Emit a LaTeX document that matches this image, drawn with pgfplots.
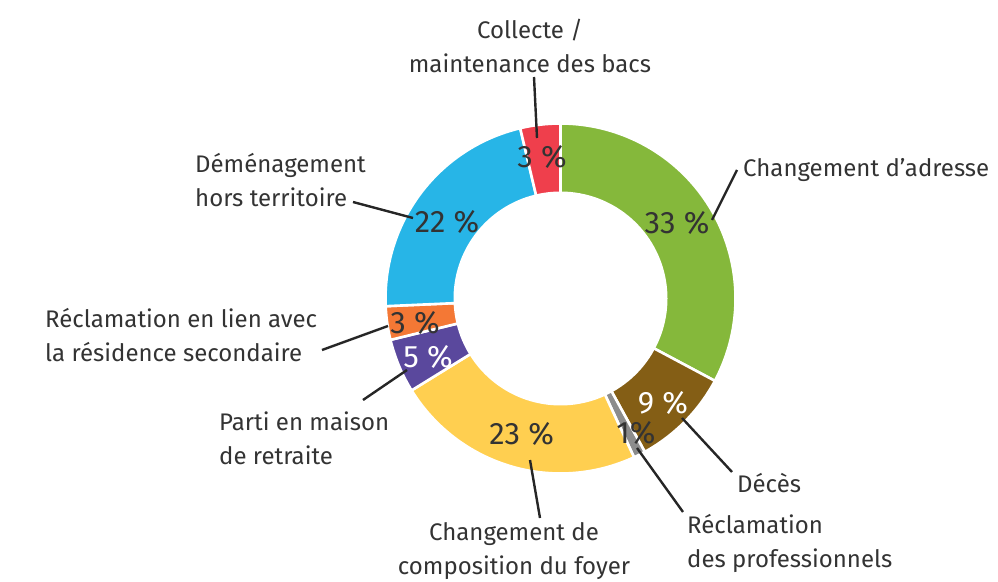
\documentclass[border=0pt]{standalone}
\usepackage{pgfplots}
\pgfplotsset{compat=1.18}
\usepackage{fontspec}
\setmainfont{Fira Sans}

\definecolor{cgreen}{HTML}{85B83B}
\definecolor{cbrown}{HTML}{845E15}
\definecolor{cgrey}{HTML}{8C8C8C}
\definecolor{cyellow}{HTML}{FFCF50}
\definecolor{cpurple}{HTML}{5A489D}
\definecolor{corange}{HTML}{F47835}
\definecolor{cblue}{HTML}{27B5E7}
\definecolor{cred}{HTML}{EF3F4C}
\definecolor{ctext}{HTML}{333333}

% one donut slice: share in percent, colour; drawn clockwise from the top
\newcommand\cum{0}
\newcommand\slice[2]{%
  \pgfmathsetmacro\sa{\cum}%
  \pgfmathsetmacro\sb{\cum+#1}%
  \xdef\cum{\sb}%
  \edef\doslice{\noexpand\addplot[fill=#2, draw=white, line width=2.6pt, line join=round,
    domain=\sa:\sb, samples=80]
    ({175*cos(90-3.6*x)},{175*sin(90-3.6*x)}) -- (axis cs:0,0) -- cycle;}%
  \doslice}

\begin{document}
\begin{tikzpicture}
\begin{axis}[
    x=1pt, y=1pt,
    xmin=-560.5, xmax=437.5,
    ymin=-282.5, ymax=298.5,
    axis line style={draw=none}, xtick=\empty, ytick=\empty,
    clip=false,
]
% shares (%), clockwise from 12 o'clock
\slice{32.8}{cgreen}   % Changement d'adresse
\slice{9.2}{cbrown}    % Décès
\slice{1.1}{cgrey}     % Réclamation des professionnels
\slice{23.1}{cyellow}  % Changement de composition du foyer
\slice{5.0}{cpurple}   % Parti en maison de retraite
\slice{3.1}{corange}   % Réclamation résidence secondaire
\slice{22.0}{cblue}    % Déménagement hors territoire
\slice{3.7}{cred}      % Collecte / maintenance des bacs
% hole
\addplot[fill=white, draw=none, domain=0:360, samples=150]
  ({107*cos(x)},{107*sin(x)}) -- cycle;

% percentage labels
\begin{scope}[every node/.style={font=\fontsize{31}{32}\selectfont, inner sep=0pt}]
\node[text=ctext] at (axis cs:116.5,75.5) {33 \%};
\node[text=white] at (axis cs:102.5,-104.5) {9 \%};
\node[text=ctext] at (axis cs:75.5,-134.5) {1\%};
\node[text=ctext] at (axis cs:-38.8,-135.5) {23 \%};
\node[text=white] at (axis cs:-132.5,-58.5) {5 \%};
\node[text=ctext] at (axis cs:-145.5,-24.5) {3 \%};
\node[text=ctext] at (axis cs:-113.5,76.5) {22 \%};
\node[text=ctext] at (axis cs:-18.5,141.5) {3 \%};
\end{scope}

% leader lines
\begin{scope}[draw=black!85, line width=2.4pt]
\draw (axis cs:-26.5,221.5) -- (axis cs:-23.5,160.5);
\draw (axis cs:151.5,78.5) -- (axis cs:176.5,128.5);
\draw (axis cs:-207.5,96.5) -- (axis cs:-147.5,80.5);
\draw (axis cs:-238.5,-51.5) -- (axis cs:-172.5,-27.5);
\draw (axis cs:-197.5,-101.5) -- (axis cs:-153.5,-71.5);
\draw (axis cs:-30.5,-161.5) -- (axis cs:-20.5,-219.5);
\draw (axis cs:76.5,-149.5) -- (axis cs:122.5,-213.5);
\draw (axis cs:121.5,-119.5) -- (axis cs:171.5,-173.5);
\end{scope}

% category labels
\begin{scope}[every node/.style={font=\fontsize{24}{34}\selectfont, text=ctext, inner sep=0pt}]
\node[align=center] at (axis cs:-30.5,252.5) {Collecte /\\maintenance des bacs};
\node[anchor=west] at (axis cs:182.5,128.5) {Changement d’adresse};
\node[anchor=west, align=left] at (axis cs:-365.5,118.5) {Déménagement\\hors territoire};
\node[anchor=west, align=left] at (axis cs:-515.5,-36.5) {Réclamation en lien avec\\la résidence secondaire};
\node[anchor=west, align=left] at (axis cs:-341.5,-139.5) {Parti en maison\\de retraite};
\node[align=center] at (axis cs:-46.5,-252.5) {Changement de\\composition du foyer};
\node[anchor=west] at (axis cs:176.5,-184.5) {Décès};
\node[anchor=west, align=left] at (axis cs:126.5,-244.5) {Réclamation\\des professionnels};
\end{scope}
\end{axis}
\end{tikzpicture}
\end{document}
